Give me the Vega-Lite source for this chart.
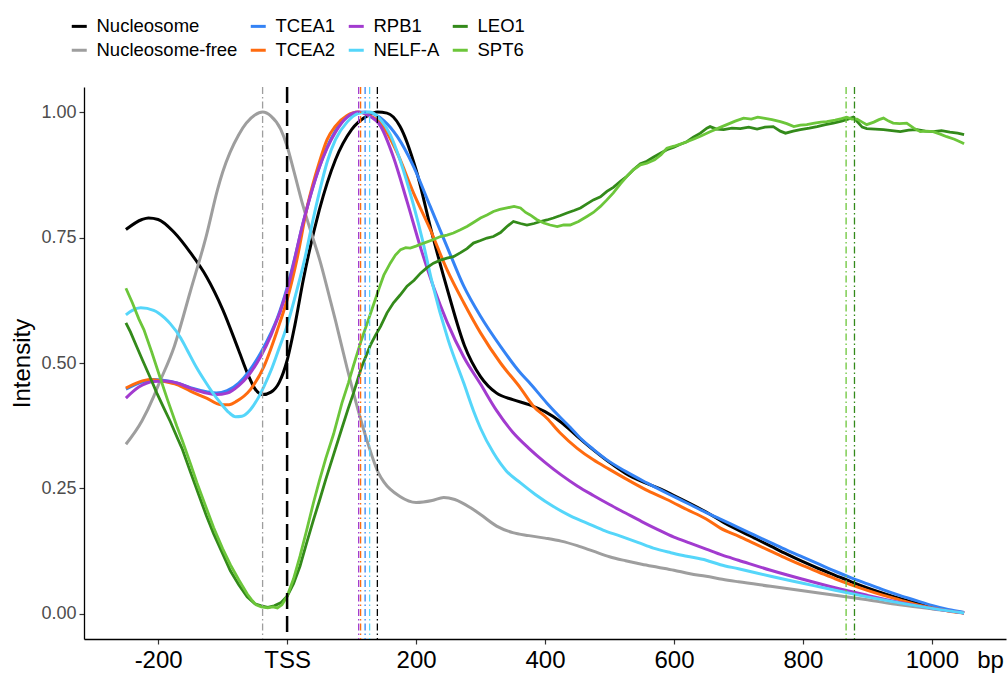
{
"$schema": "https://vega.github.io/schema/vega-lite/v6.json",
"width": 922, "height": 552,
"autosize": {"type": "none"},
"padding": {"left": 84, "top": 87, "right": 1, "bottom": 34},
"background": "white",
"config": {
  "view": {"stroke": null},
  "axis": {"grid": false, "domainColor": "#000", "domainWidth": 1.3, "tickColor": "#333", "tickWidth": 1.2, "tickSize": 5, "labelFont": "Liberation Sans", "titleFont": "Liberation Sans", "titleFontWeight": "normal", "titleColor": "#000", "labelFlush": false, "labelOverlap": false},
  "legend": {"orient": "none", "legendX": -14, "legendY": -70, "direction": "horizontal", "columns": 4, "symbolType": "stroke", "symbolSize": 225, "symbolStrokeWidth": 3, "labelFontSize": 18.5, "labelFont": "Liberation Sans", "labelColor": "#000", "rowPadding": 5, "columnPadding": 6, "labelOffset": 8, "padding": 0}
},
"datasets": {
"smooth": [
{"s":"Nucleosome","x":-250,"y":0.766},{"s":"Nucleosome","x":-225,"y":0.786},{"s":"Nucleosome","x":-215,"y":0.789},{"s":"Nucleosome","x":-200,"y":0.786},{"s":"Nucleosome","x":-175,"y":0.76},{"s":"Nucleosome","x":-150,"y":0.72},{"s":"Nucleosome","x":-125,"y":0.672},{"s":"Nucleosome","x":-100,"y":0.607},{"s":"Nucleosome","x":-75,"y":0.525},{"s":"Nucleosome","x":-60,"y":0.475},{"s":"Nucleosome","x":-50,"y":0.449},{"s":"Nucleosome","x":-38,"y":0.437},{"s":"Nucleosome","x":-25,"y":0.442},{"s":"Nucleosome","x":-12,"y":0.462},{"s":"Nucleosome","x":0,"y":0.505},{"s":"Nucleosome","x":12,"y":0.575},{"s":"Nucleosome","x":25,"y":0.665},{"s":"Nucleosome","x":50,"y":0.805},{"s":"Nucleosome","x":75,"y":0.905},{"s":"Nucleosome","x":100,"y":0.965},{"s":"Nucleosome","x":125,"y":0.993},{"s":"Nucleosome","x":140,"y":1.0},{"s":"Nucleosome","x":155,"y":0.998},{"s":"Nucleosome","x":175,"y":0.972},{"s":"Nucleosome","x":200,"y":0.885},{"s":"Nucleosome","x":225,"y":0.757},{"s":"Nucleosome","x":250,"y":0.64},{"s":"Nucleosome","x":275,"y":0.535},{"s":"Nucleosome","x":300,"y":0.473},{"s":"Nucleosome","x":325,"y":0.44},{"s":"Nucleosome","x":350,"y":0.427},{"s":"Nucleosome","x":375,"y":0.417},{"s":"Nucleosome","x":400,"y":0.403},{"s":"Nucleosome","x":425,"y":0.382},{"s":"Nucleosome","x":450,"y":0.354},{"s":"Nucleosome","x":475,"y":0.327},{"s":"Nucleosome","x":500,"y":0.302},{"s":"Nucleosome","x":525,"y":0.28},{"s":"Nucleosome","x":550,"y":0.264},{"s":"Nucleosome","x":575,"y":0.251},{"s":"Nucleosome","x":600,"y":0.236},{"s":"Nucleosome","x":625,"y":0.22},{"s":"Nucleosome","x":650,"y":0.203},{"s":"Nucleosome","x":675,"y":0.184},{"s":"Nucleosome","x":700,"y":0.167},{"s":"Nucleosome","x":725,"y":0.151},{"s":"Nucleosome","x":750,"y":0.135},{"s":"Nucleosome","x":775,"y":0.119},{"s":"Nucleosome","x":800,"y":0.104},{"s":"Nucleosome","x":825,"y":0.09},{"s":"Nucleosome","x":850,"y":0.077},{"s":"Nucleosome","x":875,"y":0.064},{"s":"Nucleosome","x":900,"y":0.052},{"s":"Nucleosome","x":925,"y":0.041},{"s":"Nucleosome","x":950,"y":0.031},{"s":"Nucleosome","x":975,"y":0.022},{"s":"Nucleosome","x":1000,"y":0.014},{"s":"Nucleosome","x":1025,"y":0.007},{"s":"Nucleosome","x":1050,"y":0.002},
{"s":"Nucleosome-free","x":-250,"y":0.338},{"s":"Nucleosome-free","x":-225,"y":0.385},{"s":"Nucleosome-free","x":-207,"y":0.433},{"s":"Nucleosome-free","x":-200,"y":0.455},{"s":"Nucleosome-free","x":-175,"y":0.533},{"s":"Nucleosome-free","x":-150,"y":0.643},{"s":"Nucleosome-free","x":-125,"y":0.755},{"s":"Nucleosome-free","x":-108,"y":0.845},{"s":"Nucleosome-free","x":-100,"y":0.88},{"s":"Nucleosome-free","x":-75,"y":0.955},{"s":"Nucleosome-free","x":-50,"y":0.994},{"s":"Nucleosome-free","x":-38,"y":1.0},{"s":"Nucleosome-free","x":-25,"y":0.992},{"s":"Nucleosome-free","x":-10,"y":0.966},{"s":"Nucleosome-free","x":0,"y":0.932},{"s":"Nucleosome-free","x":10,"y":0.885},{"s":"Nucleosome-free","x":25,"y":0.812},{"s":"Nucleosome-free","x":41,"y":0.745},{"s":"Nucleosome-free","x":50,"y":0.708},{"s":"Nucleosome-free","x":67,"y":0.625},{"s":"Nucleosome-free","x":75,"y":0.585},{"s":"Nucleosome-free","x":93,"y":0.49},{"s":"Nucleosome-free","x":100,"y":0.455},{"s":"Nucleosome-free","x":124,"y":0.345},{"s":"Nucleosome-free","x":142,"y":0.28},{"s":"Nucleosome-free","x":150,"y":0.263},{"s":"Nucleosome-free","x":175,"y":0.234},{"s":"Nucleosome-free","x":200,"y":0.222},{"s":"Nucleosome-free","x":225,"y":0.226},{"s":"Nucleosome-free","x":243,"y":0.232},{"s":"Nucleosome-free","x":260,"y":0.228},{"s":"Nucleosome-free","x":284,"y":0.212},{"s":"Nucleosome-free","x":300,"y":0.198},{"s":"Nucleosome-free","x":325,"y":0.175},{"s":"Nucleosome-free","x":350,"y":0.162},{"s":"Nucleosome-free","x":375,"y":0.156},{"s":"Nucleosome-free","x":400,"y":0.151},{"s":"Nucleosome-free","x":425,"y":0.145},{"s":"Nucleosome-free","x":450,"y":0.136},{"s":"Nucleosome-free","x":475,"y":0.125},{"s":"Nucleosome-free","x":500,"y":0.114},{"s":"Nucleosome-free","x":525,"y":0.106},{"s":"Nucleosome-free","x":550,"y":0.099},{"s":"Nucleosome-free","x":575,"y":0.093},{"s":"Nucleosome-free","x":600,"y":0.087},{"s":"Nucleosome-free","x":625,"y":0.08},{"s":"Nucleosome-free","x":650,"y":0.075},{"s":"Nucleosome-free","x":675,"y":0.069},{"s":"Nucleosome-free","x":700,"y":0.064},{"s":"Nucleosome-free","x":750,"y":0.055},{"s":"Nucleosome-free","x":800,"y":0.046},{"s":"Nucleosome-free","x":850,"y":0.037},{"s":"Nucleosome-free","x":900,"y":0.028},{"s":"Nucleosome-free","x":950,"y":0.018},{"s":"Nucleosome-free","x":1000,"y":0.01},{"s":"Nucleosome-free","x":1050,"y":0.003},
{"s":"TCEA1","x":-250,"y":0.448},{"s":"TCEA1","x":-225,"y":0.462},{"s":"TCEA1","x":-207,"y":0.467},{"s":"TCEA1","x":-190,"y":0.465},{"s":"TCEA1","x":-171,"y":0.46},{"s":"TCEA1","x":-150,"y":0.451},{"s":"TCEA1","x":-125,"y":0.443},{"s":"TCEA1","x":-110,"y":0.44},{"s":"TCEA1","x":-93,"y":0.445},{"s":"TCEA1","x":-75,"y":0.46},{"s":"TCEA1","x":-60,"y":0.482},{"s":"TCEA1","x":-41,"y":0.52},{"s":"TCEA1","x":-25,"y":0.56},{"s":"TCEA1","x":-15,"y":0.59},{"s":"TCEA1","x":0,"y":0.65},{"s":"TCEA1","x":12,"y":0.71},{"s":"TCEA1","x":25,"y":0.78},{"s":"TCEA1","x":41,"y":0.855},{"s":"TCEA1","x":50,"y":0.89},{"s":"TCEA1","x":62,"y":0.93},{"s":"TCEA1","x":75,"y":0.963},{"s":"TCEA1","x":93,"y":0.99},{"s":"TCEA1","x":110,"y":0.999},{"s":"TCEA1","x":121,"y":1.0},{"s":"TCEA1","x":135,"y":0.996},{"s":"TCEA1","x":150,"y":0.983},{"s":"TCEA1","x":171,"y":0.951},{"s":"TCEA1","x":196,"y":0.892},{"s":"TCEA1","x":222,"y":0.812},{"s":"TCEA1","x":248,"y":0.732},{"s":"TCEA1","x":274,"y":0.653},{"s":"TCEA1","x":300,"y":0.593},{"s":"TCEA1","x":331,"y":0.533},{"s":"TCEA1","x":362,"y":0.48},{"s":"TCEA1","x":375,"y":0.462},{"s":"TCEA1","x":403,"y":0.42},{"s":"TCEA1","x":425,"y":0.39},{"s":"TCEA1","x":439,"y":0.372},{"s":"TCEA1","x":455,"y":0.35},{"s":"TCEA1","x":475,"y":0.328},{"s":"TCEA1","x":496,"y":0.307},{"s":"TCEA1","x":525,"y":0.284},{"s":"TCEA1","x":558,"y":0.261},{"s":"TCEA1","x":590,"y":0.24},{"s":"TCEA1","x":620,"y":0.221},{"s":"TCEA1","x":650,"y":0.202},{"s":"TCEA1","x":672,"y":0.189},{"s":"TCEA1","x":700,"y":0.172},{"s":"TCEA1","x":725,"y":0.157},{"s":"TCEA1","x":750,"y":0.142},{"s":"TCEA1","x":775,"y":0.127},{"s":"TCEA1","x":800,"y":0.113},{"s":"TCEA1","x":825,"y":0.099},{"s":"TCEA1","x":850,"y":0.085},{"s":"TCEA1","x":875,"y":0.072},{"s":"TCEA1","x":900,"y":0.06},{"s":"TCEA1","x":925,"y":0.048},{"s":"TCEA1","x":950,"y":0.037},{"s":"TCEA1","x":975,"y":0.027},{"s":"TCEA1","x":1000,"y":0.017},{"s":"TCEA1","x":1025,"y":0.009},{"s":"TCEA1","x":1050,"y":0.003},
{"s":"TCEA2","x":-250,"y":0.45},{"s":"TCEA2","x":-230,"y":0.462},{"s":"TCEA2","x":-212,"y":0.467},{"s":"TCEA2","x":-190,"y":0.463},{"s":"TCEA2","x":-171,"y":0.457},{"s":"TCEA2","x":-150,"y":0.444},{"s":"TCEA2","x":-125,"y":0.43},{"s":"TCEA2","x":-103,"y":0.417},{"s":"TCEA2","x":-90,"y":0.417},{"s":"TCEA2","x":-78,"y":0.424},{"s":"TCEA2","x":-57,"y":0.447},{"s":"TCEA2","x":-36,"y":0.493},{"s":"TCEA2","x":-15,"y":0.566},{"s":"TCEA2","x":0,"y":0.626},{"s":"TCEA2","x":15,"y":0.705},{"s":"TCEA2","x":31,"y":0.81},{"s":"TCEA2","x":50,"y":0.9},{"s":"TCEA2","x":62,"y":0.945},{"s":"TCEA2","x":75,"y":0.972},{"s":"TCEA2","x":93,"y":0.993},{"s":"TCEA2","x":110,"y":1.0},{"s":"TCEA2","x":125,"y":0.995},{"s":"TCEA2","x":145,"y":0.978},{"s":"TCEA2","x":171,"y":0.918},{"s":"TCEA2","x":196,"y":0.839},{"s":"TCEA2","x":222,"y":0.766},{"s":"TCEA2","x":248,"y":0.686},{"s":"TCEA2","x":274,"y":0.62},{"s":"TCEA2","x":300,"y":0.56},{"s":"TCEA2","x":331,"y":0.5},{"s":"TCEA2","x":362,"y":0.45},{"s":"TCEA2","x":382,"y":0.414},{"s":"TCEA2","x":403,"y":0.39},{"s":"TCEA2","x":424,"y":0.36},{"s":"TCEA2","x":450,"y":0.33},{"s":"TCEA2","x":475,"y":0.307},{"s":"TCEA2","x":500,"y":0.288},{"s":"TCEA2","x":527,"y":0.268},{"s":"TCEA2","x":560,"y":0.245},{"s":"TCEA2","x":589,"y":0.228},{"s":"TCEA2","x":620,"y":0.208},{"s":"TCEA2","x":650,"y":0.189},{"s":"TCEA2","x":672,"y":0.171},{"s":"TCEA2","x":700,"y":0.155},{"s":"TCEA2","x":725,"y":0.14},{"s":"TCEA2","x":750,"y":0.125},{"s":"TCEA2","x":775,"y":0.11},{"s":"TCEA2","x":800,"y":0.096},{"s":"TCEA2","x":825,"y":0.083},{"s":"TCEA2","x":850,"y":0.07},{"s":"TCEA2","x":875,"y":0.058},{"s":"TCEA2","x":900,"y":0.047},{"s":"TCEA2","x":925,"y":0.037},{"s":"TCEA2","x":950,"y":0.028},{"s":"TCEA2","x":975,"y":0.019},{"s":"TCEA2","x":1000,"y":0.012},{"s":"TCEA2","x":1025,"y":0.006},{"s":"TCEA2","x":1050,"y":0.002},
{"s":"RPB1","x":-250,"y":0.43},{"s":"RPB1","x":-230,"y":0.452},{"s":"RPB1","x":-207,"y":0.463},{"s":"RPB1","x":-190,"y":0.464},{"s":"RPB1","x":-171,"y":0.46},{"s":"RPB1","x":-150,"y":0.45},{"s":"RPB1","x":-125,"y":0.44},{"s":"RPB1","x":-110,"y":0.437},{"s":"RPB1","x":-93,"y":0.44},{"s":"RPB1","x":-75,"y":0.455},{"s":"RPB1","x":-60,"y":0.475},{"s":"RPB1","x":-41,"y":0.513},{"s":"RPB1","x":-25,"y":0.555},{"s":"RPB1","x":0,"y":0.645},{"s":"RPB1","x":25,"y":0.78},{"s":"RPB1","x":50,"y":0.89},{"s":"RPB1","x":75,"y":0.96},{"s":"RPB1","x":93,"y":0.99},{"s":"RPB1","x":111,"y":1.0},{"s":"RPB1","x":125,"y":0.994},{"s":"RPB1","x":145,"y":0.972},{"s":"RPB1","x":165,"y":0.91},{"s":"RPB1","x":186,"y":0.822},{"s":"RPB1","x":207,"y":0.73},{"s":"RPB1","x":227,"y":0.652},{"s":"RPB1","x":248,"y":0.582},{"s":"RPB1","x":274,"y":0.512},{"s":"RPB1","x":300,"y":0.458},{"s":"RPB1","x":325,"y":0.405},{"s":"RPB1","x":350,"y":0.362},{"s":"RPB1","x":375,"y":0.33},{"s":"RPB1","x":400,"y":0.302},{"s":"RPB1","x":425,"y":0.277},{"s":"RPB1","x":450,"y":0.255},{"s":"RPB1","x":475,"y":0.236},{"s":"RPB1","x":500,"y":0.218},{"s":"RPB1","x":525,"y":0.201},{"s":"RPB1","x":550,"y":0.184},{"s":"RPB1","x":575,"y":0.168},{"s":"RPB1","x":600,"y":0.153},{"s":"RPB1","x":625,"y":0.141},{"s":"RPB1","x":650,"y":0.129},{"s":"RPB1","x":675,"y":0.117},{"s":"RPB1","x":700,"y":0.107},{"s":"RPB1","x":750,"y":0.087},{"s":"RPB1","x":800,"y":0.069},{"s":"RPB1","x":850,"y":0.052},{"s":"RPB1","x":900,"y":0.037},{"s":"RPB1","x":950,"y":0.023},{"s":"RPB1","x":1000,"y":0.011},{"s":"RPB1","x":1050,"y":0.002},
{"s":"NELF-A","x":-250,"y":0.596},{"s":"NELF-A","x":-240,"y":0.605},{"s":"NELF-A","x":-227,"y":0.61},{"s":"NELF-A","x":-207,"y":0.605},{"s":"NELF-A","x":-190,"y":0.59},{"s":"NELF-A","x":-181,"y":0.578},{"s":"NELF-A","x":-165,"y":0.55},{"s":"NELF-A","x":-155,"y":0.526},{"s":"NELF-A","x":-140,"y":0.49},{"s":"NELF-A","x":-129,"y":0.467},{"s":"NELF-A","x":-115,"y":0.44},{"s":"NELF-A","x":-103,"y":0.42},{"s":"NELF-A","x":-90,"y":0.401},{"s":"NELF-A","x":-80,"y":0.393},{"s":"NELF-A","x":-70,"y":0.394},{"s":"NELF-A","x":-57,"y":0.407},{"s":"NELF-A","x":-45,"y":0.43},{"s":"NELF-A","x":-36,"y":0.453},{"s":"NELF-A","x":-25,"y":0.485},{"s":"NELF-A","x":-15,"y":0.52},{"s":"NELF-A","x":0,"y":0.575},{"s":"NELF-A","x":12,"y":0.63},{"s":"NELF-A","x":26,"y":0.7},{"s":"NELF-A","x":41,"y":0.79},{"s":"NELF-A","x":50,"y":0.84},{"s":"NELF-A","x":62,"y":0.9},{"s":"NELF-A","x":75,"y":0.945},{"s":"NELF-A","x":93,"y":0.98},{"s":"NELF-A","x":110,"y":0.997},{"s":"NELF-A","x":128,"y":1.0},{"s":"NELF-A","x":145,"y":0.985},{"s":"NELF-A","x":160,"y":0.955},{"s":"NELF-A","x":175,"y":0.905},{"s":"NELF-A","x":196,"y":0.815},{"s":"NELF-A","x":210,"y":0.745},{"s":"NELF-A","x":225,"y":0.66},{"s":"NELF-A","x":250,"y":0.545},{"s":"NELF-A","x":274,"y":0.46},{"s":"NELF-A","x":289,"y":0.405},{"s":"NELF-A","x":300,"y":0.37},{"s":"NELF-A","x":320,"y":0.321},{"s":"NELF-A","x":340,"y":0.285},{"s":"NELF-A","x":362,"y":0.261},{"s":"NELF-A","x":385,"y":0.238},{"s":"NELF-A","x":413,"y":0.214},{"s":"NELF-A","x":440,"y":0.195},{"s":"NELF-A","x":465,"y":0.181},{"s":"NELF-A","x":490,"y":0.167},{"s":"NELF-A","x":517,"y":0.155},{"s":"NELF-A","x":545,"y":0.142},{"s":"NELF-A","x":568,"y":0.131},{"s":"NELF-A","x":595,"y":0.122},{"s":"NELF-A","x":620,"y":0.115},{"s":"NELF-A","x":650,"y":0.107},{"s":"NELF-A","x":672,"y":0.098},{"s":"NELF-A","x":700,"y":0.09},{"s":"NELF-A","x":750,"y":0.075},{"s":"NELF-A","x":800,"y":0.061},{"s":"NELF-A","x":850,"y":0.047},{"s":"NELF-A","x":900,"y":0.034},{"s":"NELF-A","x":950,"y":0.022},{"s":"NELF-A","x":1000,"y":0.011},{"s":"NELF-A","x":1050,"y":0.002}
],
"green": [
{"s":"LEO1","x":-250,"y":0.58},{"s":"LEO1","x":-243,"y":0.562},{"s":"LEO1","x":-233,"y":0.532},{"s":"LEO1","x":-225,"y":0.508},{"s":"LEO1","x":-212,"y":0.47},{"s":"LEO1","x":-202,"y":0.44},{"s":"LEO1","x":-190,"y":0.407},{"s":"LEO1","x":-181,"y":0.383},{"s":"LEO1","x":-170,"y":0.35},{"s":"LEO1","x":-163,"y":0.33},{"s":"LEO1","x":-150,"y":0.283},{"s":"LEO1","x":-140,"y":0.248},{"s":"LEO1","x":-125,"y":0.195},{"s":"LEO1","x":-114,"y":0.16},{"s":"LEO1","x":-100,"y":0.12},{"s":"LEO1","x":-88,"y":0.086},{"s":"LEO1","x":-75,"y":0.058},{"s":"LEO1","x":-62,"y":0.034},{"s":"LEO1","x":-50,"y":0.02},{"s":"LEO1","x":-40,"y":0.016},{"s":"LEO1","x":-30,"y":0.013},{"s":"LEO1","x":-20,"y":0.016},{"s":"LEO1","x":-10,"y":0.022},{"s":"LEO1","x":0,"y":0.035},{"s":"LEO1","x":10,"y":0.06},{"s":"LEO1","x":20,"y":0.095},{"s":"LEO1","x":30,"y":0.14},{"s":"LEO1","x":41,"y":0.188},{"s":"LEO1","x":50,"y":0.225},{"s":"LEO1","x":60,"y":0.268},{"s":"LEO1","x":72,"y":0.317},{"s":"LEO1","x":85,"y":0.37},{"s":"LEO1","x":95,"y":0.41},{"s":"LEO1","x":103,"y":0.44},{"s":"LEO1","x":115,"y":0.49},{"s":"LEO1","x":129,"y":0.535},{"s":"LEO1","x":137,"y":0.555},{"s":"LEO1","x":145,"y":0.573},{"s":"LEO1","x":155,"y":0.6},{"s":"LEO1","x":165,"y":0.62},{"s":"LEO1","x":175,"y":0.635},{"s":"LEO1","x":186,"y":0.653},{"s":"LEO1","x":197,"y":0.665},{"s":"LEO1","x":207,"y":0.679},{"s":"LEO1","x":217,"y":0.69},{"s":"LEO1","x":227,"y":0.699},{"s":"LEO1","x":238,"y":0.705},{"s":"LEO1","x":248,"y":0.709},{"s":"LEO1","x":258,"y":0.712},{"s":"LEO1","x":269,"y":0.72},{"s":"LEO1","x":279,"y":0.728},{"s":"LEO1","x":289,"y":0.739},{"s":"LEO1","x":300,"y":0.744},{"s":"LEO1","x":310,"y":0.749},{"s":"LEO1","x":320,"y":0.752},{"s":"LEO1","x":331,"y":0.76},{"s":"LEO1","x":341,"y":0.772},{"s":"LEO1","x":351,"y":0.782},{"s":"LEO1","x":362,"y":0.778},{"s":"LEO1","x":372,"y":0.775},{"s":"LEO1","x":383,"y":0.778},{"s":"LEO1","x":393,"y":0.782},{"s":"LEO1","x":403,"y":0.785},{"s":"LEO1","x":413,"y":0.789},{"s":"LEO1","x":424,"y":0.794},{"s":"LEO1","x":434,"y":0.799},{"s":"LEO1","x":445,"y":0.804},{"s":"LEO1","x":455,"y":0.809},{"s":"LEO1","x":465,"y":0.817},{"s":"LEO1","x":475,"y":0.825},{"s":"LEO1","x":486,"y":0.831},{"s":"LEO1","x":496,"y":0.842},{"s":"LEO1","x":506,"y":0.85},{"s":"LEO1","x":517,"y":0.862},{"s":"LEO1","x":527,"y":0.872},{"s":"LEO1","x":537,"y":0.885},{"s":"LEO1","x":548,"y":0.897},{"s":"LEO1","x":558,"y":0.902},{"s":"LEO1","x":568,"y":0.91},{"s":"LEO1","x":579,"y":0.918},{"s":"LEO1","x":589,"y":0.925},{"s":"LEO1","x":600,"y":0.93},{"s":"LEO1","x":610,"y":0.936},{"s":"LEO1","x":620,"y":0.941},{"s":"LEO1","x":630,"y":0.95},{"s":"LEO1","x":641,"y":0.958},{"s":"LEO1","x":651,"y":0.968},{"s":"LEO1","x":656,"y":0.971},{"s":"LEO1","x":666,"y":0.966},{"s":"LEO1","x":677,"y":0.965},{"s":"LEO1","x":690,"y":0.968},{"s":"LEO1","x":703,"y":0.967},{"s":"LEO1","x":716,"y":0.97},{"s":"LEO1","x":729,"y":0.966},{"s":"LEO1","x":741,"y":0.97},{"s":"LEO1","x":754,"y":0.971},{"s":"LEO1","x":765,"y":0.962},{"s":"LEO1","x":773,"y":0.958},{"s":"LEO1","x":785,"y":0.962},{"s":"LEO1","x":796,"y":0.965},{"s":"LEO1","x":810,"y":0.968},{"s":"LEO1","x":822,"y":0.971},{"s":"LEO1","x":835,"y":0.975},{"s":"LEO1","x":847,"y":0.978},{"s":"LEO1","x":860,"y":0.982},{"s":"LEO1","x":870,"y":0.986},{"s":"LEO1","x":878,"y":0.99},{"s":"LEO1","x":885,"y":0.98},{"s":"LEO1","x":892,"y":0.97},{"s":"LEO1","x":899,"y":0.967},{"s":"LEO1","x":912,"y":0.966},{"s":"LEO1","x":925,"y":0.965},{"s":"LEO1","x":938,"y":0.963},{"s":"LEO1","x":951,"y":0.961},{"s":"LEO1","x":964,"y":0.964},{"s":"LEO1","x":977,"y":0.965},{"s":"LEO1","x":990,"y":0.962},{"s":"LEO1","x":1002,"y":0.961},{"s":"LEO1","x":1015,"y":0.963},{"s":"LEO1","x":1028,"y":0.96},{"s":"LEO1","x":1040,"y":0.958},{"s":"LEO1","x":1050,"y":0.955},
{"s":"SPT6","x":-250,"y":0.649},{"s":"SPT6","x":-240,"y":0.62},{"s":"SPT6","x":-230,"y":0.588},{"s":"SPT6","x":-222,"y":0.566},{"s":"SPT6","x":-210,"y":0.522},{"s":"SPT6","x":-196,"y":0.467},{"s":"SPT6","x":-185,"y":0.425},{"s":"SPT6","x":-171,"y":0.374},{"s":"SPT6","x":-163,"y":0.347},{"s":"SPT6","x":-150,"y":0.3},{"s":"SPT6","x":-140,"y":0.262},{"s":"SPT6","x":-125,"y":0.21},{"s":"SPT6","x":-114,"y":0.172},{"s":"SPT6","x":-100,"y":0.13},{"s":"SPT6","x":-88,"y":0.098},{"s":"SPT6","x":-75,"y":0.068},{"s":"SPT6","x":-62,"y":0.04},{"s":"SPT6","x":-55,"y":0.028},{"s":"SPT6","x":-48,"y":0.018},{"s":"SPT6","x":-40,"y":0.014},{"s":"SPT6","x":-30,"y":0.012},{"s":"SPT6","x":-22,"y":0.014},{"s":"SPT6","x":-15,"y":0.012},{"s":"SPT6","x":-8,"y":0.018},{"s":"SPT6","x":0,"y":0.035},{"s":"SPT6","x":10,"y":0.07},{"s":"SPT6","x":20,"y":0.115},{"s":"SPT6","x":30,"y":0.165},{"s":"SPT6","x":41,"y":0.222},{"s":"SPT6","x":50,"y":0.265},{"s":"SPT6","x":60,"y":0.31},{"s":"SPT6","x":72,"y":0.358},{"s":"SPT6","x":85,"y":0.42},{"s":"SPT6","x":95,"y":0.46},{"s":"SPT6","x":103,"y":0.495},{"s":"SPT6","x":115,"y":0.545},{"s":"SPT6","x":129,"y":0.597},{"s":"SPT6","x":143,"y":0.65},{"s":"SPT6","x":150,"y":0.675},{"s":"SPT6","x":160,"y":0.699},{"s":"SPT6","x":168,"y":0.715},{"s":"SPT6","x":176,"y":0.726},{"s":"SPT6","x":184,"y":0.73},{"s":"SPT6","x":191,"y":0.729},{"s":"SPT6","x":200,"y":0.733},{"s":"SPT6","x":212,"y":0.739},{"s":"SPT6","x":225,"y":0.745},{"s":"SPT6","x":238,"y":0.752},{"s":"SPT6","x":248,"y":0.755},{"s":"SPT6","x":258,"y":0.759},{"s":"SPT6","x":268,"y":0.765},{"s":"SPT6","x":279,"y":0.772},{"s":"SPT6","x":289,"y":0.78},{"s":"SPT6","x":300,"y":0.789},{"s":"SPT6","x":310,"y":0.795},{"s":"SPT6","x":320,"y":0.802},{"s":"SPT6","x":330,"y":0.806},{"s":"SPT6","x":341,"y":0.809},{"s":"SPT6","x":352,"y":0.812},{"s":"SPT6","x":362,"y":0.809},{"s":"SPT6","x":370,"y":0.8},{"s":"SPT6","x":377,"y":0.795},{"s":"SPT6","x":387,"y":0.786},{"s":"SPT6","x":398,"y":0.779},{"s":"SPT6","x":408,"y":0.775},{"s":"SPT6","x":419,"y":0.772},{"s":"SPT6","x":429,"y":0.775},{"s":"SPT6","x":439,"y":0.775},{"s":"SPT6","x":452,"y":0.782},{"s":"SPT6","x":465,"y":0.792},{"s":"SPT6","x":475,"y":0.8},{"s":"SPT6","x":486,"y":0.812},{"s":"SPT6","x":496,"y":0.825},{"s":"SPT6","x":506,"y":0.839},{"s":"SPT6","x":517,"y":0.857},{"s":"SPT6","x":527,"y":0.872},{"s":"SPT6","x":537,"y":0.885},{"s":"SPT6","x":548,"y":0.895},{"s":"SPT6","x":558,"y":0.898},{"s":"SPT6","x":570,"y":0.905},{"s":"SPT6","x":580,"y":0.915},{"s":"SPT6","x":589,"y":0.928},{"s":"SPT6","x":600,"y":0.932},{"s":"SPT6","x":610,"y":0.936},{"s":"SPT6","x":620,"y":0.941},{"s":"SPT6","x":630,"y":0.946},{"s":"SPT6","x":641,"y":0.952},{"s":"SPT6","x":656,"y":0.961},{"s":"SPT6","x":669,"y":0.968},{"s":"SPT6","x":682,"y":0.975},{"s":"SPT6","x":695,"y":0.982},{"s":"SPT6","x":708,"y":0.988},{"s":"SPT6","x":720,"y":0.986},{"s":"SPT6","x":730,"y":0.99},{"s":"SPT6","x":739,"y":0.988},{"s":"SPT6","x":752,"y":0.985},{"s":"SPT6","x":765,"y":0.981},{"s":"SPT6","x":775,"y":0.977},{"s":"SPT6","x":786,"y":0.971},{"s":"SPT6","x":796,"y":0.974},{"s":"SPT6","x":806,"y":0.975},{"s":"SPT6","x":818,"y":0.978},{"s":"SPT6","x":828,"y":0.98},{"s":"SPT6","x":837,"y":0.981},{"s":"SPT6","x":850,"y":0.984},{"s":"SPT6","x":860,"y":0.987},{"s":"SPT6","x":868,"y":0.99},{"s":"SPT6","x":876,"y":0.986},{"s":"SPT6","x":884,"y":0.986},{"s":"SPT6","x":892,"y":0.98},{"s":"SPT6","x":899,"y":0.975},{"s":"SPT6","x":910,"y":0.98},{"s":"SPT6","x":918,"y":0.985},{"s":"SPT6","x":925,"y":0.988},{"s":"SPT6","x":933,"y":0.982},{"s":"SPT6","x":940,"y":0.978},{"s":"SPT6","x":950,"y":0.977},{"s":"SPT6","x":961,"y":0.978},{"s":"SPT6","x":972,"y":0.968},{"s":"SPT6","x":982,"y":0.961},{"s":"SPT6","x":992,"y":0.962},{"s":"SPT6","x":1002,"y":0.961},{"s":"SPT6","x":1013,"y":0.956},{"s":"SPT6","x":1023,"y":0.951},{"s":"SPT6","x":1035,"y":0.946},{"s":"SPT6","x":1047,"y":0.939},{"s":"SPT6","x":1050,"y":0.937}
],
"peaks": [
{"s":"Nucleosome-free","x":-38},{"s":"RPB1","x":111},{"s":"TCEA2","x":114},{"s":"TCEA1","x":121},{"s":"NELF-A","x":128},{"s":"Nucleosome","x":140},{"s":"SPT6","x":867},{"s":"LEO1","x":880}
],
"tss": [{"x":0}]
},
"encoding": {
  "x": {"field": "x", "type": "quantitative",
    "scale": {"domain": [-315, 1115], "nice": false, "zero": false},
    "axis": {"values": [-200, 0, 200, 400, 600, 800, 1000],
      "labelExpr": "datum.value == 0 ? 'TSS' : (datum.value < 0 ? '-' + abs(datum.value) : '' + datum.value)",
      "labelFontSize": 24, "labelColor": "#000", "labelPadding": 4,
      "title": "bp", "titleFontSize": 24, "titleX": 906, "titleY": 9, "titleBaseline": "top", "titleAlign": "center"}}
},
"layer": [
  {"data": {"name": "smooth"},
   "mark": {"type": "line", "strokeWidth": 3, "interpolate": "monotone"},
   "encoding": {
     "y": {"field": "y", "type": "quantitative",
       "scale": {"domain": [-0.05, 1.05], "nice": false, "zero": false},
       "axis": {"values": [0, 0.25, 0.5, 0.75, 1], "format": ".2f", "labelFontSize": 18, "labelColor": "#4D4D4D", "labelPadding": 3,
         "title": "Intensity", "titleFontSize": 24, "titleX": -62, "titleY": 276, "titleAngle": 270, "titleBaseline": "middle", "titleAlign": "center"}},
     "color": {"field": "s", "type": "nominal",
       "scale": {"domain": ["Nucleosome", "TCEA1", "RPB1", "LEO1", "Nucleosome-free", "TCEA2", "NELF-A", "SPT6"],
                 "range": ["#000000", "#3483F5", "#A23BCF", "#338A1A", "#9E9E9E", "#FF6B0F", "#55D6FA", "#6CC63A"]},
       "legend": {"title": null, "symbolType": "stroke"}}
   }},
  {"data": {"name": "green"},
   "mark": {"type": "line", "strokeWidth": 2.8},
   "encoding": {
     "y": {"field": "y", "type": "quantitative"},
     "color": {"field": "s", "type": "nominal"}
   }},
  {"data": {"name": "peaks"},
   "mark": {"type": "rule", "strokeWidth": 1.3, "strokeDash": [7, 3, 1.5, 3]},
   "encoding": {"color": {"field": "s", "type": "nominal", "legend": null}}},
  {"data": {"name": "tss"},
   "mark": {"type": "rule", "strokeWidth": 2.5, "strokeDash": [16, 7], "color": "#000"},
   "encoding": {}}
]
}
